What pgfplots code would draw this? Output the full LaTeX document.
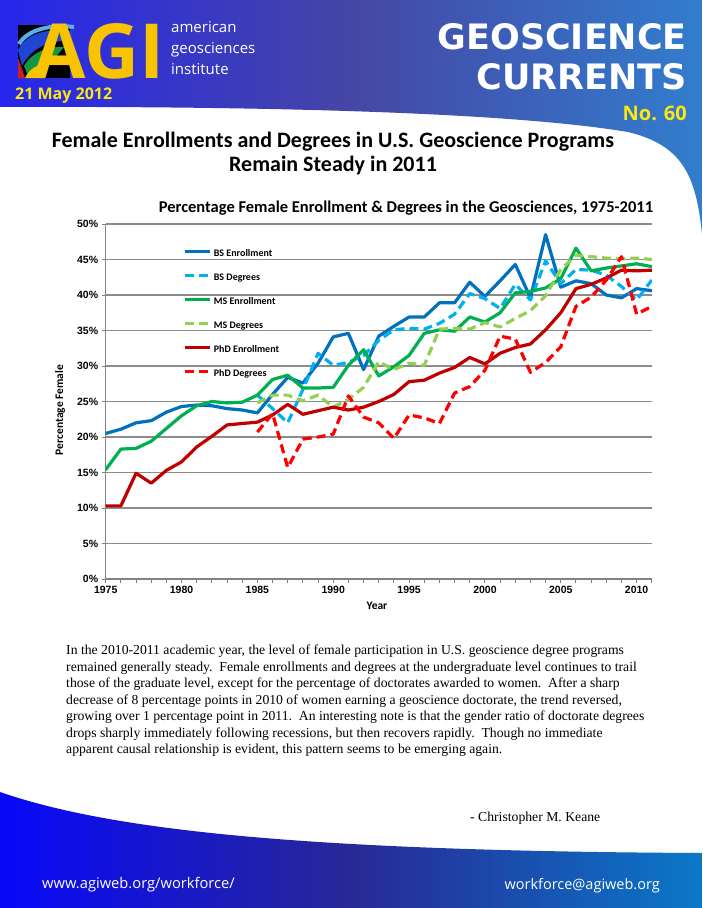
\documentclass[border=0pt]{standalone}
\usepackage{fontspec}
\setmainfont{Liberation Serif}
\newfontfamily\calibri{Carlito}
\newfontfamily\arialf{Liberation Sans}
\newfontfamily\opensans{Open Sans}
\newfontfamily\dejavu{DejaVu Sans}
\usepackage{pgfplots}
\pgfplotsset{compat=1.18}
\usepackage{pgfplotstable}

% series colours
\definecolor{bsenr}{RGB}{0,112,192}
\definecolor{bsdeg}{RGB}{0,176,240}
\definecolor{msenr}{RGB}{0,176,80}
\definecolor{msdeg}{RGB}{146,208,80}
\definecolor{phdenr}{RGB}{192,0,0}
\definecolor{phddeg}{RGB}{255,0,0}
\definecolor{gridgray}{RGB}{140,140,140}
\definecolor{axisgray}{RGB}{130,130,130}
% page colours
\definecolor{bannerL}{RGB}{38,38,236}
\definecolor{bannerM}{RGB}{70,70,165}
\definecolor{bannerR}{RGB}{50,125,205}
\definecolor{footL}{RGB}{8,8,250}
\definecolor{footM}{RGB}{40,40,150}
\definecolor{footR}{RGB}{10,120,200}
\definecolor{agiyellow}{RGB}{248,195,0}
\definecolor{lemon}{RGB}{250,232,20}
\definecolor{logoblue}{RGB}{30,70,210}
\definecolor{logosky}{RGB}{90,175,235}
\definecolor{logogreen}{RGB}{20,150,70}
\definecolor{logored}{RGB}{205,30,40}

\pgfplotstableread{
year pct
1975 20.5
1976 21.1
1977 22.0
1978 22.3
1979 23.5
1980 24.3
1981 24.5
1982 24.4
1983 24.0
1984 23.8
1985 23.4
1986 26.0
1987 28.4
1988 27.6
1989 30.4
1990 34.1
1991 34.6
1992 29.5
1993 34.2
1994 35.6
1995 36.9
1996 36.9
1997 38.9
1998 38.9
1999 41.8
2000 39.8
2001 42.0
2002 44.3
2003 39.6
2004 48.5
2005 41.1
2006 42.0
2007 41.6
2008 40.0
2009 39.6
2010 40.9
2011 40.6
}\bsenrolltab

\pgfplotstableread{
year pct
1985 25.9
1986 24.0
1987 22.0
1988 26.7
1989 31.8
1990 30.1
1991 30.5
1992 31.5
1993 33.6
1994 35.1
1995 35.3
1996 35.2
1997 36.0
1998 37.3
1999 40.2
2000 39.5
2001 38.1
2002 41.5
2003 39.3
2004 44.8
2005 41.6
2006 43.6
2007 43.5
2008 42.8
2009 41.2
2010 39.3
2011 42.1
}\bsdegtab

\pgfplotstableread{
year pct
1975 15.4
1976 18.3
1977 18.4
1978 19.4
1979 21.2
1980 23.0
1981 24.4
1982 25.0
1983 24.8
1984 24.9
1985 25.9
1986 28.1
1987 28.7
1988 26.9
1989 26.9
1990 27.0
1991 30.1
1992 32.3
1993 28.6
1994 29.9
1995 31.5
1996 34.6
1997 35.1
1998 34.9
1999 36.9
2000 36.2
2001 37.5
2002 40.3
2003 40.5
2004 41.0
2005 42.3
2006 46.6
2007 43.4
2008 43.8
2009 44.1
2010 44.4
2011 44.0
}\msenrolltab

\pgfplotstableread{
year pct
1985 24.8
1986 25.9
1987 25.9
1988 25.1
1989 25.9
1990 24.2
1991 25.3
1992 27.0
1993 30.6
1994 29.5
1995 30.4
1996 30.1
1997 35.2
1998 35.3
1999 35.2
2000 36.1
2001 35.5
2002 36.7
2003 37.8
2004 39.9
2005 43.6
2006 45.6
2007 45.4
2008 45.2
2009 45.1
2010 45.2
2011 45.0
}\msdegtab

\pgfplotstableread{
year pct
1975 10.3
1976 10.3
1977 14.9
1978 13.5
1979 15.3
1980 16.5
1981 18.6
1982 20.1
1983 21.7
1984 21.9
1985 22.1
1986 23.1
1987 24.6
1988 23.2
1989 23.7
1990 24.2
1991 23.8
1992 24.2
1993 25.0
1994 26.0
1995 27.8
1996 28.0
1997 29.0
1998 29.8
1999 31.2
2000 30.3
2001 31.8
2002 32.6
2003 33.1
2004 35.1
2005 37.5
2006 40.9
2007 41.5
2008 42.4
2009 43.5
2010 43.4
2011 43.5
}\phdenrolltab

\pgfplotstableread{
year pct
1985 20.7
1986 23.3
1987 15.7
1988 19.7
1989 20.0
1990 20.4
1991 25.8
1992 22.8
1993 22.0
1994 19.8
1995 23.1
1996 22.7
1997 21.9
1998 26.2
1999 27.1
2000 29.4
2001 34.2
2002 33.8
2003 29.1
2004 30.5
2005 32.7
2006 38.4
2007 39.7
2008 42.1
2009 45.4
2010 37.3
2011 38.4
}\phddegtab

\begin{document}
\begin{tikzpicture}
% ---------- page furniture (1pt = 1px, y downward) ----------
\begin{scope}[x=1pt,y=-1pt]
  \path[use as bounding box] (0,0) rectangle (702,908);
  \fill[white] (0,0) rectangle (702,908);
  % header band
  \shade[left color=bannerL, right color=bannerR, middle color=bannerM]
    (0,0) -- (702,0) -- (702,234) .. controls (696,175) and (682,145) .. (628,132)
    .. controls (520,114) and (300,106) .. (0,107) -- cycle;
  % footer band
  \shade[left color=footL, right color=footR, middle color=footM]
    (0,792) .. controls (110,830) and (300,851) .. (702,853) -- (702,908) -- (0,908) -- cycle;

  % logo mark
  \fill[black] (18,25) rectangle (70,78);
  \fill[logoblue] (18,50) .. controls (26,33) and (48,28) .. (72,31)
    -- (72,41) .. controls (50,40) and (32,47) .. (22,66) -- cycle;
  \draw[line width=4pt, logosky] (19,44) .. controls (27,30) and (50,24) .. (74,27);
  \fill[logogreen] (24,66) .. controls (32,52) and (48,46) .. (64,47)
    -- (50,64) .. controls (40,64) and (32,70) .. (29,78) -- cycle;
  \fill[logored] (18,58) .. controls (21,66) and (23,72) .. (25,78) -- (18,78) -- cycle;
  \fill[agiyellow] (25,78) .. controls (30,68) and (38,64) .. (48,64) -- (44,78) -- cycle;
  \node[anchor=base west, inner sep=0pt, text=agiyellow,
        font=\opensans\bfseries\fontsize{76}{76}\selectfont] at (33,78) {AGI};
  \node[anchor=base west, inner sep=0pt, text=white, font=\opensans\fontsize{15}{16}\selectfont] at (171,32) {american};
  \node[anchor=base west, inner sep=0pt, text=white, font=\opensans\fontsize{15}{16}\selectfont] at (171,53) {geosciences};
  \node[anchor=base west, inner sep=0pt, text=white, font=\opensans\fontsize{15}{16}\selectfont] at (171,74) {institute};
  \node[anchor=west, inner sep=0pt, text=lemon, font=\opensans\bfseries\fontsize{16}{18}\selectfont] at (15,96) {21 May 2012};

  % masthead
  \node[anchor=east, inner sep=0pt, text=white, font=\dejavu\bfseries\fontsize{35}{40}\selectfont] at (687,37) {GEOSCIENCE};
  \node[anchor=east, inner sep=0pt, text=white, font=\dejavu\bfseries\fontsize{35}{40}\selectfont] at (687,77) {CURRENTS};
  \node[anchor=east, inner sep=0pt, text=lemon, font=\opensans\bfseries\fontsize{20}{22}\selectfont] at (687,113) {No. 60};

  % headline
  \node[inner sep=0pt, font=\calibri\bfseries\fontsize{22}{26}\selectfont] at (333,142)
    {Female Enrollments and Degrees in U.S. Geoscience Programs};
  \node[inner sep=0pt, font=\calibri\bfseries\fontsize{22}{26}\selectfont] at (333,166)
    {Remain Steady in 2011};

  % chart title
  \node[inner sep=0pt, font=\calibri\bfseries\fontsize{16.5}{18}\selectfont] at (406,208)
    {Percentage Female Enrollment \& Degrees in the Geosciences, 1975-2011};

  % commentary
  \node[anchor=north west, inner sep=0pt, align=left, font=\fontsize{13.7}{16.5}\selectfont] at (66,645)
    {In the 2010-2011 academic year, the level of female participation in U.S. geoscience degree programs\\
     remained generally steady.\ \ Female enrollments and degrees at the undergraduate level continues to trail\\
     those of the graduate level, except for the percentage of doctorates awarded to women.\ \ After a sharp\\
     decrease of 8 percentage points in 2010 of women earning a geoscience doctorate, the trend reversed,\\
     growing over 1 percentage point in 2011.\ \ An interesting note is that the gender ratio of doctorate degrees\\
     drops sharply immediately following recessions, but then recovers rapidly.\ \ Though no immediate\\
     apparent causal relationship is evident, this pattern seems to be emerging again.};
  \node[anchor=base west, inner sep=0pt, font=\fontsize{13.7}{16}\selectfont] at (470,821) {- Christopher M. Keane};

  % footer
  \node[anchor=west, inner sep=0pt, text=white, font=\opensans\fontsize{14.7}{17}\selectfont] at (42,885) {www.agiweb.org/workforce/};
  \node[anchor=east, inner sep=0pt, text=white, font=\opensans\fontsize{14.5}{17}\selectfont] at (660,886) {workforce@agiweb.org};
\end{scope}

% ---------- chart ----------
\begin{axis}[
  at={(105.7pt,-579pt)}, anchor=south west,
  width=546.1pt, height=355pt, scale only axis,
  xmin=1975, xmax=2011, ymin=0, ymax=50,
  axis x line*=bottom, axis y line*=left,
  axis line style={-, draw=axisgray, line width=1.3pt},
  xtick={1975,1980,...,2010},
  xticklabels={1975,1980,1985,1990,1995,2000,2005,2010},
  minor xtick={1976,1977,...,2011},
  ytick={0,5,...,50},
  yticklabels={0\%,5\%,10\%,15\%,20\%,25\%,30\%,35\%,40\%,45\%,50\%},
  tick align=outside,
  major tick length=4pt, minor tick length=4pt,
  every tick/.style={draw=axisgray, line width=1pt},
  ymajorgrids,
  major grid style={draw=gridgray, line width=1.2pt},
  ticklabel style={font=\arialf\bfseries\fontsize{10.5}{12}\selectfont},
  xlabel={Year}, ylabel={Percentage Female},
  every axis x label/.style={at={(axis description cs:0.4968,-0.076)}, anchor=center,
    font=\calibri\bfseries\fontsize{11.5}{13}\selectfont},
  every axis y label/.style={at={(axis description cs:-0.0837,0.476)}, rotate=90, anchor=center,
    font=\calibri\bfseries\fontsize{11.5}{13}\selectfont},
  legend cell align=left,
  legend style={at={(0.136,0.934)}, anchor=north west, draw=none, fill=none,
    font=\calibri\bfseries\fontsize{10}{12}\selectfont, row sep=15pt,
    nodes={inner sep=0pt, text height=7pt, text depth=2pt},
    /tikz/every odd column/.append style={column sep=2.5pt}},
  legend image code/.code={\draw[#1, line cap=butt] (0pt,2.6pt) -- (25pt,2.6pt);},
  solidline/.style={line width=3.2pt, line join=round, line cap=round},
  dashline/.style={line width=3.2pt, line join=round, line cap=butt, dash pattern=on 9pt off 5pt},
]
\addplot[bsenr, solidline]  table[x=year,y=pct] {\bsenrolltab};
\addlegendentry{BS Enrollment}
\addplot[bsdeg, dashline]   table[x=year,y=pct] {\bsdegtab};
\addlegendentry{BS Degrees}
\addplot[msenr, solidline]  table[x=year,y=pct] {\msenrolltab};
\addlegendentry{MS Enrollment}
\addplot[msdeg, dashline]   table[x=year,y=pct] {\msdegtab};
\addlegendentry{MS Degrees}
\addplot[phdenr, solidline] table[x=year,y=pct] {\phdenrolltab};
\addlegendentry{PhD Enrollment}
\addplot[phddeg, dashline]  table[x=year,y=pct] {\phddegtab};
\addlegendentry{PhD Degrees}
\end{axis}
\end{tikzpicture}
\end{document}
